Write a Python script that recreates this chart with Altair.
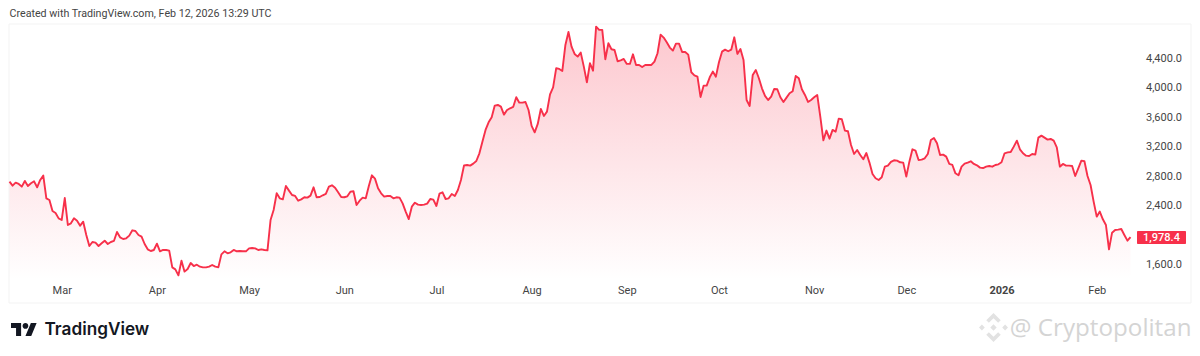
import altair as alt
import pandas as pd

START_DATE = "2025-02-12"
prices = [
    2727,2673,2714,2696,2660,2737,2669,2705,2732,2651,2750,2809,2502,2479,2331,2304,2231,2209,2506,2141,
    2164,2231,2200,2132,2186,2006,1857,1911,1902,1857,1893,1929,1884,1911,1925,2046,1974,1952,1961,1997,
    2069,2060,2006,1983,1884,1812,1789,1803,1889,1785,1803,1803,1794,1568,1541,1460,1659,1510,1546,1627,
    1586,1604,1577,1568,1568,1577,1600,1577,1568,1744,1785,1758,1771,1803,1785,1789,1785,1785,1825,1830,
    1825,1803,1812,1803,1798,2209,2344,2570,2502,2488,2669,2606,2547,2534,2470,
    2488,2516,2511,2538,2651,2516,2520,2543,2561,2660,2678,2646,2583,2520,2516,2529,2592,2597,2412,2470,
    2511,2502,2669,2813,2768,2637,2570,2525,2534,2534,2502,2516,2511,2434,2322,2222,2389,2443,2416,2412,
    2416,2430,2493,2484,2398,2565,2583,2493,2502,2561,2534,2615,2750,2948,2953,2944,2971,3007,3111,
    3269,3427,3530,3598,3756,3765,3742,3634,3697,3720,3738,3869,3796,3796,3805,3697,3481,3395,3508,3711,
    3616,3675,3909,4004,4261,4252,4225,4577,4752,4554,4455,4419,4473,4283,4071,4329,4229,4825,4780,
    4780,
    4383,4599,4518,4509,4356,4369,4387,4320,4320,4450,4306,4306,4279,4306,4306,4306,4351,4464,4716,4676,
    4613,4541,4500,4595,4595,4482,4482,4446,4207,4166,4148,3873,4026,4026,4139,4216,4148,4342,4486,4513,
    4491,4513,4680,4455,4522,4374,3832,3751,4171,4238,4126,3990,3887,3832,3878,3981,3977,3869,3805,3864,
    3923,3950,4157,4126,3977,3900,3805,3832,3869,3900,3607,3287,3418,3309,3427,3404,3580,3571,3418,3409,
    3224,3102,3156,3088,3030,3115,2985,2831,2773,
    2750,2786,2930,2944,2994,3016,3012,2989,2985,2795,2998,3165,3147,3021,3025,3043,3102,3291,3318,3246,
    3088,3093,3066,2967,2953,2840,2813,2930,2971,2985,3003,2967,2948,2917,
    2912,2930,2939,2930,2953,2962,2989,3111,3124,3129,3201,3282,3165,3111,3079,3075,3102,3093,3323,3350,
    3323,3296,3305,3282,3192,2930,2967,2944,2944,2939,2804,2908,3012,3003,2804,2682,2457,2254,2322,2218,
    2141,1812,2037,2074,2078,2087,2006,1929,1978.4,
]
dates = pd.date_range(START_DATE, periods=len(prices), freq="D").strftime("%Y-%m-%d").tolist()

month_ticks = ["2025-03-01","2025-04-01","2025-05-01","2025-06-01","2025-07-01","2025-08-01",
               "2025-09-01","2025-10-01","2025-11-01","2025-12-01","2026-01-01","2026-02-01"]
price_ticks = [1600,2400,2800,3200,3600,4000,4400]
y_domain = [1397,4860]
x_domain = [dates[0],dates[-1]]
last_price = prices[-1]
last_label = f"{last_price:,.1f}"

RED = "#f7304a"
FONT = "Roboto"
TV_LOGO = ("M-0.222 0.5H-0.611V-0.111H-1V-0.5H-0.222Z"
           "M0.556 0.5H0.111L0.528 -0.5H0.972Z"
           "M0.333 -0.278A0.222 0.222 0 1 1 -0.111 -0.278A0.222 0.222 0 1 1 0.333 -0.278Z")
BN_LOGO = ("M0 -1L0.5 -0.5L0.32 -0.32L0 -0.64L-0.32 -0.32L-0.5 -0.5Z"
           "M0 1L0.5 0.5L0.32 0.32L0 0.64L-0.32 0.32L-0.5 0.5Z"
           "M-1 0L-0.8 -0.2L-0.6 0L-0.8 0.2Z"
           "M1 0L0.8 -0.2L0.6 0L0.8 0.2Z"
           "M0 -0.22L0.22 0L0 0.22L-0.22 0Z")

df = pd.DataFrame({"date":dates,"price":prices})
one = df.head(1)
xs = alt.Scale(type="utc",domain=x_domain)
ys = alt.Scale(domain=y_domain,nice=False,zero=False)
x_enc = alt.X("date:T",scale=xs,title=None,axis=alt.Axis(
    values=month_ticks,
    labelExpr="utcmonth(datum.value)==0 ? utcyear(datum.value) : utcFormat(datum.value,'%b')",
    labelFontWeight=alt.condition("utcmonth(datum.value)==0",alt.value("bold"),alt.value("normal")),
    ticks=False,domain=False,grid=False,labelPadding=4,labelFont=FONT,labelFontSize=11,
    labelColor="#444444",labelFlush=False,labelOverlap=False))
y_enc = alt.Y("price:Q",scale=ys,title=None,axis=alt.Axis(
    orient="right",values=price_ticks,format=",.1f",ticks=False,domain=False,grid=False,
    labelPadding=15,labelFont=FONT,labelFontSize=11,labelColor="#444444",labelBound=False,labelFlush=False))

area = alt.Chart(df).mark_area(color=alt.Gradient(
    gradient="linear",x1=0,x2=0,y1=0,y2=1,
    stops=[alt.GradientStop(color="rgba(247,48,74,0.27)",offset=0),
           alt.GradientStop(color="rgba(247,48,74,0.0)",offset=1)])).encode(
    x=x_enc,y=y_enc,y2=alt.datum(y_domain[0]))
line = alt.Chart(df).mark_line(color=RED,strokeWidth=1.9,strokeJoin="round").encode(x=x_enc,y=y_enc)

frame = alt.Chart(one).mark_rect(fill=None,stroke="#f3f3f3",strokeWidth=1).encode(
    x=alt.value(-0.5),x2=alt.value(1181.5),y=alt.value(0),y2=alt.value(279))
badge = alt.Chart(one).mark_rect(color=RED,cornerRadius=1).encode(
    x=alt.value(1127.5),x2=alt.value(1176.5),y=alt.value(207),y2=alt.value(220))
badge_text = alt.Chart(one).mark_text(text=last_label,color="white",font=FONT,fontSize=11,
    fontWeight=500,align="center",baseline="middle").encode(x=alt.value(1152),y=alt.value(213.5))
created = alt.Chart(one).mark_text(text="Created with TradingView.com, Feb 12, 2026 13:29 UTC",
    color="#444444",font=FONT,fontSize=10.7,align="left",baseline="middle").encode(
    x=alt.value(0),y=alt.value(-10))
logo = alt.Chart(one).mark_point(shape=TV_LOGO,size=676,filled=True,color="#131722",opacity=1).encode(
    x=alt.value(14.5),y=alt.value(305.5))
logo_text = alt.Chart(one).mark_text(text="TradingView",color="#131722",font="Inter",fontSize=17.2,
    fontWeight=600,align="left",baseline="middle").encode(x=alt.value(35),y=alt.value(306))
bn = alt.Chart(one).mark_point(shape=BN_LOGO,size=841,filled=True,color="#e2e2e2",opacity=1).encode(
    x=alt.value(984),y=alt.value(303.5))
wm = alt.Chart(one).mark_text(text="@ Cryptopolitan",color="#d4d4d4",font="Open Sans",fontSize=24.2,
    align="right",baseline="middle").encode(x=alt.value(1182),y=alt.value(305))

chart = alt.layer(frame,area,line,badge,badge_text,created,logo,logo_text,bn,wm).properties(
    width=1121,height=256,
    padding={"left":1.5,"top":16,"right":61,"bottom":66},
    autosize=alt.AutoSizeParams(type="none"),
    background="white",
).configure_view(stroke=None)

chart.save("out.html",embed_options={"renderer":"svg","actions":False})
